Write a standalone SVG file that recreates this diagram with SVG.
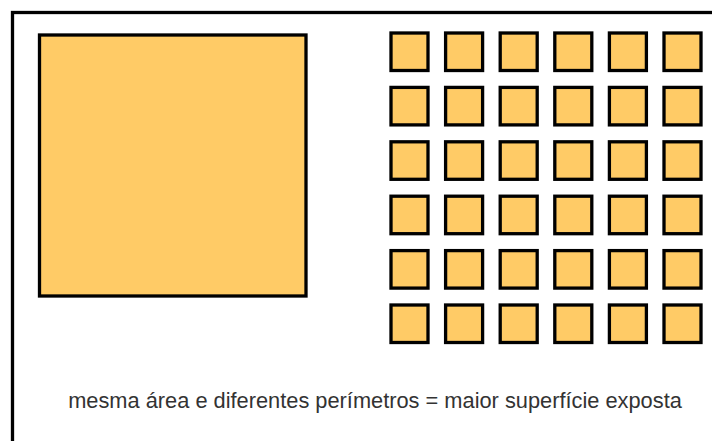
<svg xmlns="http://www.w3.org/2000/svg" width="712" height="441" viewBox="0 0 712 441">
<style>
.sq{fill:#FFCB66;stroke:#000;stroke-width:3.3}
.lbl{font-family:"Liberation Sans",Arial,sans-serif;font-size:21.8px;fill:#333}
</style>
<rect width="712" height="441" fill="#fff"/>
<rect x="12.5" y="12.5" width="740" height="460" fill="none" stroke="#000" stroke-width="3.3"/>
<g id="big"><rect class="sq" x="39.5" y="35" width="266.5" height="261"/></g>
<g id="small">
<g id="r0">
<rect class="sq" x="391" y="33" width="37" height="37.5"/><rect class="sq" x="445.6" y="33" width="37" height="37.5"/><rect class="sq" x="500.2" y="33" width="37" height="37.5"/><rect class="sq" x="554.8" y="33" width="37" height="37.5"/><rect class="sq" x="609.4" y="33" width="37" height="37.5"/><rect class="sq" x="664" y="33" width="37" height="37.5"/>
</g>
<g id="r1">
<rect class="sq" x="391" y="87.4" width="37" height="37.5"/><rect class="sq" x="445.6" y="87.4" width="37" height="37.5"/><rect class="sq" x="500.2" y="87.4" width="37" height="37.5"/><rect class="sq" x="554.8" y="87.4" width="37" height="37.5"/><rect class="sq" x="609.4" y="87.4" width="37" height="37.5"/><rect class="sq" x="664" y="87.4" width="37" height="37.5"/>
</g>
<g id="r2">
<rect class="sq" x="391" y="141.8" width="37" height="37.5"/><rect class="sq" x="445.6" y="141.8" width="37" height="37.5"/><rect class="sq" x="500.2" y="141.8" width="37" height="37.5"/><rect class="sq" x="554.8" y="141.8" width="37" height="37.5"/><rect class="sq" x="609.4" y="141.8" width="37" height="37.5"/><rect class="sq" x="664" y="141.8" width="37" height="37.5"/>
</g>
<g id="r3">
<rect class="sq" x="391" y="196.2" width="37" height="37.5"/><rect class="sq" x="445.6" y="196.2" width="37" height="37.5"/><rect class="sq" x="500.2" y="196.2" width="37" height="37.5"/><rect class="sq" x="554.8" y="196.2" width="37" height="37.5"/><rect class="sq" x="609.4" y="196.2" width="37" height="37.5"/><rect class="sq" x="664" y="196.2" width="37" height="37.5"/>
</g>
<g id="r4">
<rect class="sq" x="391" y="250.6" width="37" height="37.5"/><rect class="sq" x="445.6" y="250.6" width="37" height="37.5"/><rect class="sq" x="500.2" y="250.6" width="37" height="37.5"/><rect class="sq" x="554.8" y="250.6" width="37" height="37.5"/><rect class="sq" x="609.4" y="250.6" width="37" height="37.5"/><rect class="sq" x="664" y="250.6" width="37" height="37.5"/>
</g>
<g id="r5">
<rect class="sq" x="391" y="305" width="37" height="37.5"/><rect class="sq" x="445.6" y="305" width="37" height="37.5"/><rect class="sq" x="500.2" y="305" width="37" height="37.5"/><rect class="sq" x="554.8" y="305" width="37" height="37.5"/><rect class="sq" x="609.4" y="305" width="37" height="37.5"/><rect class="sq" x="664" y="305" width="37" height="37.5"/>
</g>
</g>
<g id="caption"><text class="lbl" x="375" y="408" text-anchor="middle">mesma área e diferentes perímetros = maior superfície exposta</text></g>
</svg>
